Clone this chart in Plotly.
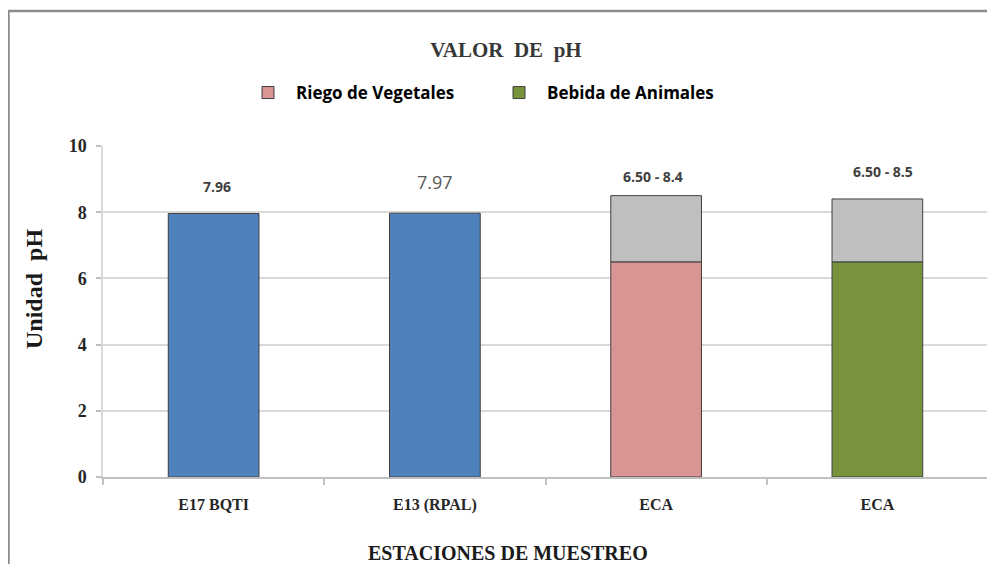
import plotly.graph_objects as go

# ---- data ----
categories = ["E17 BQTI", "E13 (RPAL)", "ECA", "ECA"]
station_values = [7.96, 7.97]            # measured pH (blue bars)
eca_lower = [6.50, 6.50]                 # ECA lower limit (pink / green)
eca_upper = [8.50, 8.40]                 # ECA upper limit (top of grey part)
series_names = ["Riego de Vegetales", "Bebida de Animales"]
bar_labels = ["7.96", "7.97", "6.50 - 8.4", "6.50 - 8.5"]
y_ticks = [0, 2, 4, 6, 8, 10]

xpos = list(range(len(categories)))
eca_band = [u - l for u, l in zip(eca_upper, eca_lower)]

# ---- geometry (page is offset by the 8px body margin) ----
W, H = 987, 556
L, R, T, B = 95, 7, 138, 87
PW, PH = W - L - R, H - T - B


def px(x):   # figure pixel -> paper x
    return (x - L) / PW


def py(y):   # figure pixel -> paper y
    return (H - B - y) / PH


SERIF = "Liberation Serif"
SANS = "Open Sans"
LINE = dict(color="#3f3f3f", width=1)
BW = 0.41

fig = go.Figure()
fig.add_trace(go.Bar(x=xpos[:2], y=station_values, marker=dict(color="#4f81bd", line=LINE),
                     showlegend=False, width=BW))
fig.add_trace(go.Bar(x=[xpos[2]], y=[eca_lower[0]], name=series_names[0],
                     marker=dict(color="#d99594", line=LINE), width=BW))
fig.add_trace(go.Bar(x=[xpos[3]], y=[eca_lower[1]], name=series_names[1],
                     marker=dict(color="#77933c", line=LINE), width=BW))
fig.add_trace(go.Bar(x=xpos[2:], y=eca_band, base=eca_lower, marker=dict(color="#bfbfbf", line=LINE),
                     showlegend=False, width=BW))

tops = station_values + eca_upper
label_styles = [
    dict(size=14, bold=True, color="#404040", shift=27, dx=3),
    dict(size=18, bold=False, color="#595959", shift=31, dx=0),
    dict(size=14, bold=True, color="#404040", shift=19, dx=-3),
    dict(size=14, bold=True, color="#404040", shift=27, dx=6),
]
for i, (t, lab, st) in enumerate(zip(tops, bar_labels, label_styles)):
    fig.add_annotation(x=xpos[i], y=t, text=f"<b>{lab}</b>" if st["bold"] else lab,
                       showarrow=False, yshift=st["shift"], xshift=st["dx"],
                       font=dict(family=SANS, size=st["size"], color=st["color"]))

# axis titles (placed off-centre like the original)
fig.add_annotation(x=px(500), y=py(545), xref="paper", yref="paper", showarrow=False,
                   xanchor="center", yanchor="middle",
                   text="<b>ESTACIONES DE MUESTREO</b>",
                   font=dict(family=SERIF, size=20, color="#1a1a1a"))
fig.add_annotation(x=px(26), y=py(281), xref="paper", yref="paper", showarrow=False,
                   xanchor="center", yanchor="middle",
                   text="<b>Unidad  pH</b>", textangle=-90,
                   font=dict(family=SERIF, size=24, color="#1a1a1a"))

fig.update_layout(
    width=W, height=H,
    margin=dict(l=L, r=R, t=T, b=B),
    paper_bgcolor="white", plot_bgcolor="white",
    barmode="overlay",
    title=dict(text="<b>VALOR  DE  pH</b>", x=498 / W, xanchor="center", xref="container",
               y=1 - 42 / H, yanchor="middle", yref="container",
               font=dict(family=SERIF, size=21, color="#383838")),
    legend=dict(orientation="h", x=232 / W, xanchor="left", xref="container",
                y=1 - 85 / H, yanchor="middle", yref="container",
                font=dict(family=SANS, size=17, color="#000000", weight="bold"),
                itemwidth=46, entrywidth=190, entrywidthmode="pixels", traceorder="normal"),
    xaxis=dict(range=[-0.5, 3.5], tickvals=xpos, ticktext=[f"<b>{c}</b>" for c in categories],
               ticks="", tickfont=dict(family=SERIF, size=16, color="#262626"), ticklabelstandoff=12,
               showline=True, linecolor="#bfbfbf", linewidth=1.5, showgrid=False, zeroline=False,
               minor=dict(tick0=-0.5, dtick=1, ticks="outside", ticklen=6, tickcolor="#bfbfbf", tickwidth=1.5)),
    yaxis=dict(range=[0, 10], tickvals=y_ticks, ticktext=[f"<b>{v}</b>" for v in y_ticks],
               ticks="outside", ticklen=5, tickcolor="#bfbfbf", tickwidth=1.5,
               tickfont=dict(family=SERIF, size=18, color="#262626"), ticklabelstandoff=6,
               showgrid=True, gridcolor="#d9d9d9", gridwidth=1.5,
               showline=True, linecolor="#d9d9d9", linewidth=1.5, zeroline=False),
)

# outer chart frame (left and top edges visible)
fig.add_shape(type="rect", xref="paper", yref="paper",
              x0=px(0.5), x1=px(W + 20), y0=py(H + 20), y1=py(3),
              line=dict(color="#8c8c8c", width=2.5), fillcolor="rgba(0,0,0,0)", layer="below")

fig.write_html("out.html")
